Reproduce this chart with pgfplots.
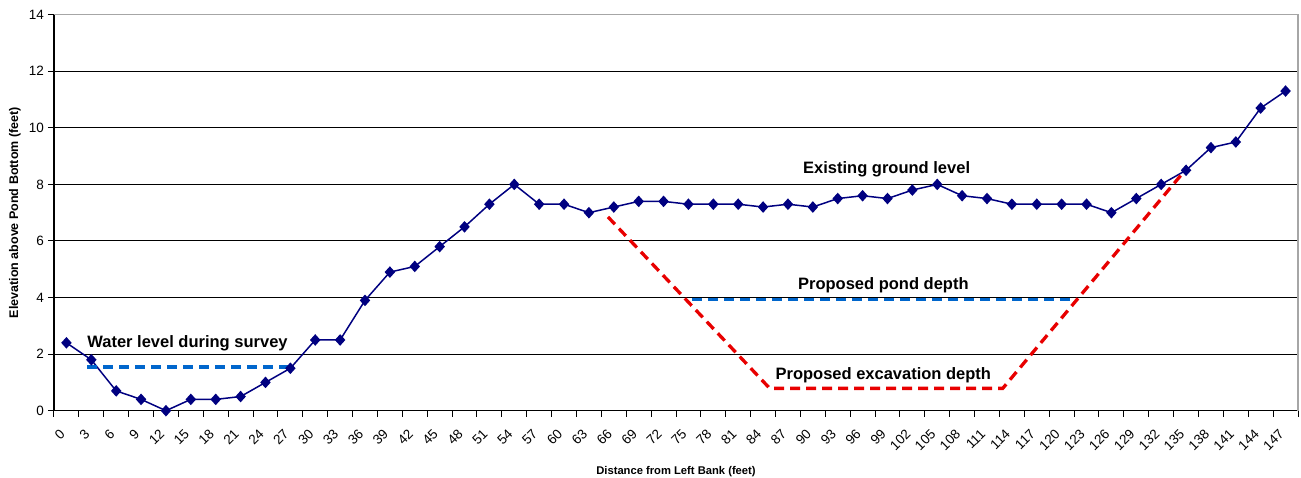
\documentclass[border=0pt]{standalone}
\usepackage{pgfplots}
\pgfplotsset{compat=1.18}
\usepackage{fontspec}
\setmainfont{Liberation Sans}
\definecolor{gnavy}{HTML}{000080}
\definecolor{wblue}{HTML}{0066CC}
\definecolor{xred}{HTML}{E80000}
\begin{document}
\begin{tikzpicture}
\begin{axis}[
    scale only axis,
    width=1244pt, height=396pt,
    xmin=-1.5, xmax=148.5,
    ymin=0, ymax=14,
    axis x line*=bottom, axis y line*=left,
    axis line style={black, line width=1.2pt},
    xtick={0,3,...,147},
    minor xtick={-1.5,1.5,...,148.5},
    ytick={0,2,...,14},
    major x tick style={draw=none},
    tick align=outside,
    minor tick length=6pt,
    major tick length=6pt,
    every tick/.style={black, line width=1pt},
    ymajorgrids,
    grid style={black, line width=1pt},
    /pgf/number format/assume math mode=true,
    tick label style={font=\fontsize{13.5}{15}\selectfont},
    xticklabel style={inner sep=0pt, anchor=east, xshift=-4pt, yshift=-15pt, rotate=45},
    yticklabel style={inner sep=0pt, anchor=east, xshift=-4pt},
    xlabel={Distance from Left Bank (feet)},
    xlabel style={font=\fontsize{11.2}{13}\selectfont\bfseries,
        at={(axis description cs:0.5,0)}, anchor=center, yshift=-61pt},
    ylabel={Elevation above Pond Bottom (feet)},
    ylabel style={font=\fontsize{12.5}{14}\selectfont\bfseries,
        at={(axis description cs:0,0.5)}, anchor=center, yshift=39pt},
    clip=false,
]
% border, gray top and right
\draw[gray!70, line width=1.2pt] (rel axis cs:0,1) -- (rel axis cs:1,1) -- (rel axis cs:1,0);

% existing ground level
\addplot[gnavy, line width=1.5pt, mark=diamond*, mark size=4.7pt,
    mark options={xscale=1.2}] coordinates {
    (0,2.4) (3,1.8) (6,0.7) (9,0.4) (12,0.0) (15,0.4) (18,0.4) (21,0.5)
    (24,1.0) (27,1.5) (30,2.5) (33,2.5) (36,3.9) (39,4.9) (42,5.1) (45,5.8)
    (48,6.5) (51,7.3) (54,8.0) (57,7.3) (60,7.3) (63,7.0) (66,7.2) (69,7.4)
    (72,7.4) (75,7.3) (78,7.3) (81,7.3) (84,7.2) (87,7.3) (90,7.2) (93,7.5)
    (96,7.6) (99,7.5) (102,7.8) (105,8.0) (108,7.6) (111,7.5) (114,7.3) (117,7.3)
    (120,7.3) (123,7.3) (126,7.0) (129,7.5) (132,8.0) (135,8.5) (138,9.3) (141,9.5)
    (144,10.7) (147,11.3)
};

% water level during survey
\addplot[wblue, line width=3.3pt, dash pattern=on 10pt off 6pt] coordinates {
    (2.5,1.55) (27.2,1.55)
};

% proposed pond depth
\addplot[wblue, line width=3.3pt, dash pattern=on 10pt off 6pt] coordinates {
    (75.4,3.94) (121.4,3.94)
};

% proposed excavation depth
\addplot[xred, line width=3.3pt, dash pattern=on 10pt off 6pt] coordinates {
    (65.3,6.85) (84.8,0.79) (112.9,0.79) (134.6,8.4)
};

\node[anchor=base, font=\fontsize{16.5}{18}\selectfont\bfseries] at (axis cs:98.9,8.37) {Existing ground level};
\node[anchor=base, font=\fontsize{16.5}{18}\selectfont\bfseries] at (axis cs:98.5,4.29) {Proposed pond depth};
\node[anchor=base, font=\fontsize{16.5}{18}\selectfont\bfseries] at (axis cs:98.5,1.11) {Proposed excavation depth};
\node[anchor=base, font=\fontsize{16.5}{18}\selectfont\bfseries] at (axis cs:14.6,2.24) {Water level during survey};
\end{axis}
\pgfresetboundingbox
\path[use as bounding box] (-54pt,-67.3pt) rectangle (1247pt,410.7pt);
\end{tikzpicture}
\end{document}
